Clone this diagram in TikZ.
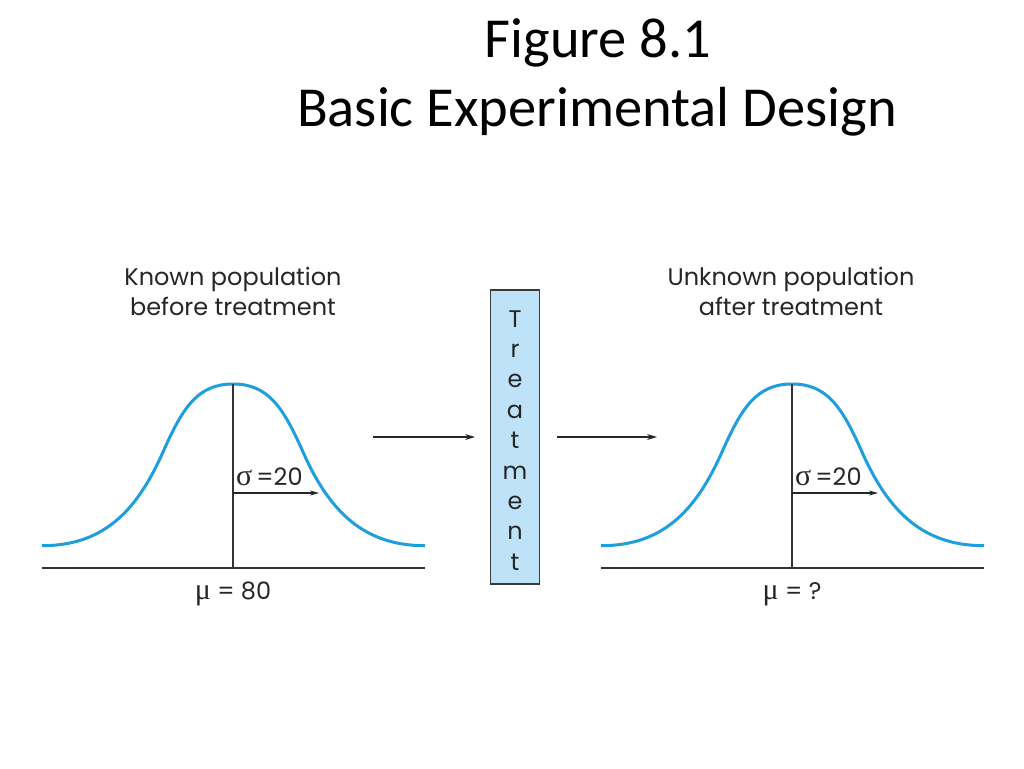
\documentclass[tikz,border=0pt]{standalone}
\usepackage{fontspec}
\setmainfont{Carlito}
\newfontfamily\lab{Poppins}
\newfontfamily\gr{Liberation Serif}[Scale=1.25]
\usetikzlibrary{arrows.meta}
\definecolor{curveblue}{HTML}{1E9EDC}
\definecolor{boxblue}{HTML}{BEE3F8}
\definecolor{boxedge}{HTML}{3A3A3A}
\tikzset{
  titletext/.style={font=\fontsize{56.5}{56.5}\selectfont, anchor=base, inner sep=0},
  labeltext/.style={font=\lab\fontsize{24}{24}\selectfont, anchor=base, inner sep=0, text=black!85},
  lettertext/.style={font=\lab\fontsize{24}{24}\selectfont, anchor=base, inner sep=0, text=black!85},
  bell/.style={curveblue, line width=3pt, line join=round},
  axisline/.style={black!80, line width=1.4pt},
  conn/.style={black!85, line width=1.2pt, -{Stealth[length=10pt,width=6pt]}},
  sigarrow/.style={black!85, line width=1.1pt, -{Stealth[length=9pt,width=5pt]}},
  treatbox/.style={draw=boxedge, fill=boxblue, line width=1.3pt, minimum width=48.6pt, minimum height=294pt, inner sep=0}
}
\begin{document}
\begin{tikzpicture}[x=1pt,y=-1pt]
\useasboundingbox (0,0) rectangle (1024,768);
\fill[white] (0,0) rectangle (1024,768);
% title
\node[titletext] (t1) at (598,58) {Figure 8.1};
\node[titletext] (t2) at (597,126) {Basic Experimental Design};
% panel labels
\node[labeltext] (k1) at (233,285) {Known population};
\node[labeltext] (k2) at (233,315) {before treatment};
\node[labeltext] (u1) at (791,285) {Unknown population};
\node[labeltext] (u2) at (791,315) {after treatment};
% treatment box
\node[treatbox] (box) at (515,437) {};
\foreach \ch [count=\i from 0] in {T,r,e,a,t,m,e,n,t} {
  \node[lettertext] (L\i) at (515,{327+30.4*\i}) {\ch};
}
% arrows
\coordinate (la) at (373,437);
\coordinate (rb) at (657,437);
\draw[conn, shorten >=15pt] (la) -- (box.west);
\draw[conn, shorten <=17pt] (box.east) -- (rb);
% two bell panels
\foreach \cx/\nm/\mu in {233/A/80, 792/B/?} {
  \coordinate (peak\nm) at (\cx,384);
  \coordinate (foot\nm) at (\cx,568);
  \coordinate (axl\nm) at ({\cx-191},568);
  \coordinate (axr\nm) at ({\cx+192},568);
  \draw[bell] ({\cx-191},545.7)
    .. controls ({\cx-131},545.7) and ({\cx-97},513) .. ({\cx-70},452)
    .. controls ({\cx-50},406.8) and ({\cx-35},384) .. (\cx,384)
    .. controls ({\cx+35},384) and ({\cx+50},406.8) .. ({\cx+70},452)
    .. controls ({\cx+97},513) and ({\cx+132},545.7) .. ({\cx+192},545.7);
  \draw[axisline] (axl\nm) -- (axr\nm);
  \draw[axisline] (peak\nm) -- (foot\nm);
  \coordinate (sa\nm) at (\cx,493);
  \coordinate (sb\nm) at ({\cx+86},493);
  \draw[sigarrow] (sa\nm) -- (sb\nm);
  \node[labeltext, anchor=base west] (sig\nm) at ({\cx+3},485) {{\gr σ}\,=20};
  \node[labeltext] (mu\nm) at (\cx,599) {{\gr μ} = \mu};
}
\end{tikzpicture}
\end{document}
